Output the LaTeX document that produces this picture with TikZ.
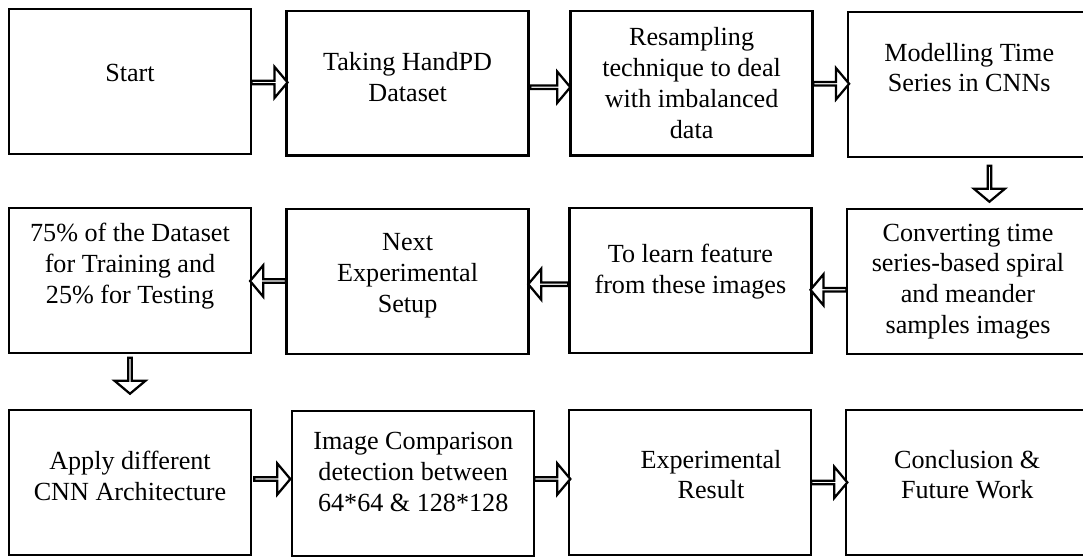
\documentclass[tikz,border=0pt]{standalone}
\usepackage{fontspec}
\setmainfont{Liberation Serif}
\usetikzlibrary{shapes.arrows,calc}
% strut below the last line, pushes the text up inside its box
\newcommand{\liftby}[1]{\rule[-#1]{0pt}{#1}}
\tikzset{
box/.style={draw, line width=1.8pt, minimum width=6.05cm, minimum height=3.62cm, align=center, font=\fontsize{18.6}{22}\selectfont},
flow/.style={single arrow, draw, fill=white, line width=1.6pt, inner sep=0pt, minimum width=0.78cm, minimum height=0.9cm, single arrow head extend=0.22cm, single arrow tip angle=100, shape border rotate=#1},
flow/.default=0
}

\begin{document}
\begin{tikzpicture}
\useasboundingbox (0,0) rectangle (27.075,-13.925);
\clip (0,0) rectangle (27.075,-13.925);
% first row, left to right
\node[box] (start) at (3.25,-2.04) {Start\liftby{0.42cm}};
\node[box] (hand) at (10.19,-2.08) {Taking HandPD\\Dataset\liftby{0.3cm}};
\node[box] (resamp) at (17.29,-2.08) {Resampling\\technique to deal\\with imbalanced\\data};
\node[box] (model) at (24.23,-2.11) {Modelling Time\\Series in CNNs\liftby{0.85cm}};
% second row, right to left
\node[box] (conv) at (24.2,-7.04) {Converting time\\series-based spiral\\and meander\\samples images};
\node[box] (learn) at (17.26,-7.01) {To learn feature\\from these images\liftby{0.59cm}};
\node[box] (setup) at (10.19,-7.04) {Next\\Experimental\\Setup\liftby{0.44cm}};
\node[box] (split) at (3.25,-7.01) {75\% of the Dataset\\for Training and\\25\% for Testing\liftby{0.84cm}};
% third row, left to right
\node[box] (cnn) at (3.25,-12.06) {Apply different\\CNN Architecture\liftby{0.35cm}};
\node[box] (comp) at (10.33,-12.09) {Image Comparison\\detection between\\64*64 \& 128*128\liftby{0.6cm}};
\node[box] (result) at (17.25,-12.06) {\hspace*{1.05cm}Experimental\\\hspace*{1.05cm}Result\liftby{0.4cm}};
\node[box] (concl) at (24.18,-12.06) {Conclusion \&\\Future Work\liftby{0.4cm}};

% block arrows between the steps
\node[flow] (a1) at ($(start.east)!.5!(hand.west)$) {};
\node[flow, minimum height=1cm, yshift=-0.1cm] (a2) at ($(hand.east)!.5!(resamp.west)$) {};
\node[flow] (a3) at ($(resamp.east)!.5!(model.west)$) {};
\node[flow=270, xshift=0.52cm] (a4) at ($(model.south)!.5!(conv.north)$) {};
\node[flow=180, yshift=-0.22cm] (a5) at ($(conv.west)!.5!(learn.east)$) {};
\node[flow=180, minimum height=1cm, yshift=-0.08cm] (a6) at ($(learn.west)!.5!(setup.east)$) {};
\node[flow=180] (a7) at ($(setup.west)!.5!(split.east)$) {};
\node[flow=270, yshift=0.16cm] (a8) at ($(split.south)!.5!(cnn.north)$) {};
\node[flow, yshift=0.1cm] (a9) at ($(cnn.east)!.5!(comp.west)$) {};
\node[flow, yshift=0.1cm] (a10) at ($(comp.east)!.5!(result.west)$) {};
\node[flow] (a11) at ($(result.east)!.5!(concl.west)$) {};
\end{tikzpicture}
\end{document}
